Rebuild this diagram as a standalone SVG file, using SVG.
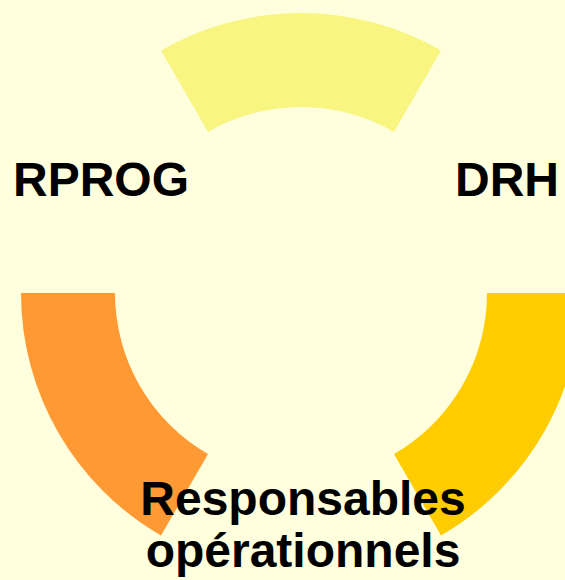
<svg xmlns="http://www.w3.org/2000/svg" width="565" height="580" viewBox="0 0 565 580">
  <style>
    .lbl { font-family: "Liberation Sans", Arial, sans-serif; font-weight: bold; font-size: 48px; fill: #000000; text-anchor: middle; }
  </style>
  <rect width="565" height="580" fill="#FFFFDD"/>
  <!-- Ring segments centred at (301,293), outer radius 280, inner radius 186 -->
  <g id="seg-top">
    <path d="M161,50.51 A280,280 0 0,1 441,50.51 L394,131.92 A186,186 0 0,0 208,131.92 Z" fill="#F8F580"/>
  </g>
  <g id="seg-left">
    <path d="M21,293 A280,280 0 0,0 161,535.49 L208,454.08 A186,186 0 0,1 115,293 Z" fill="#FF9933"/>
  </g>
  <g id="seg-right">
    <path d="M581,293 A280,280 0 0,1 441,535.49 L394,454.08 A186,186 0 0,0 487,293 Z" fill="#FFCC00"/>
  </g>
  <g id="connectors"/>
  <g id="node-rprog">
    <text class="lbl" x="101" y="196">RPROG</text>
  </g>
  <g id="node-drh">
    <text class="lbl" x="507" y="196">DRH</text>
  </g>
  <g id="node-resp">
    <text class="lbl" x="303" y="515">Responsables</text>
    <text class="lbl" x="303" y="567">opérationnels</text>
  </g>
</svg>
